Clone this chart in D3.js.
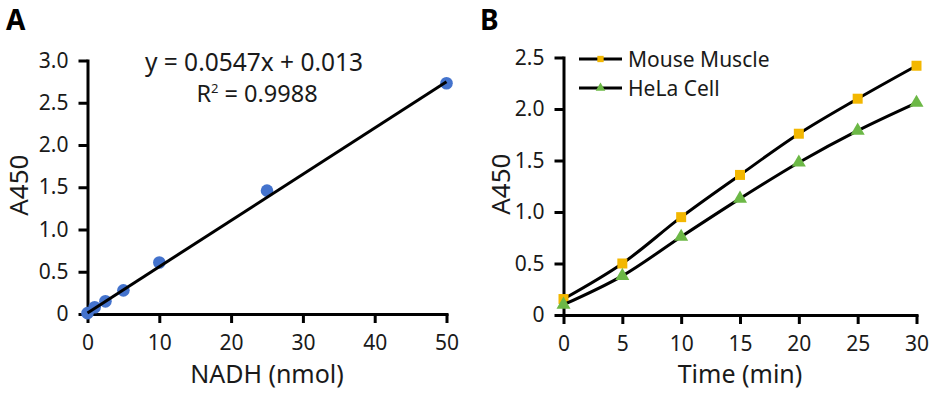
<!DOCTYPE html>
<html>
<head>
<meta charset="utf-8">
<script src="https://cdn.jsdelivr.net/npm/d3@7"></script>
<style>
  html, body { margin: 0; padding: 0; background: #fff; }
  svg { display: block; font-family: "Noto Sans", sans-serif; }
</style>
</head>
<body>
<div id="chart"></div>
<script>
// Panel A - NADH standard curve
const nadhAmount = [0, 1, 2.5, 5, 10, 25, 50]
const nadhA450 = [0.01, 0.08, 0.15, 0.28, 0.61, 1.46, 2.73]
const fitSlope = 0.0547
const fitIntercept = 0.013
const fitLabel = "y = 0.0547x + 0.013"
const r2Value = "0.9988"
const nadhXTicks = [0, 10, 20, 30, 40, 50]
const nadhYTicks = [0, 0.5, 1.0, 1.5, 2.0, 2.5, 3.0]

// Panel B - time course
const timeMin = [0, 5, 10, 15, 20, 25, 30]
const mouseMuscle = [0.155, 0.50, 0.95, 1.36, 1.76, 2.10, 2.42]
const helaCell = [0.10, 0.38, 0.76, 1.13, 1.48, 1.79, 2.06]
const seriesNames = ["Mouse Muscle", "HeLa Cell"]
const timeXTicks = [0, 5, 10, 15, 20, 25, 30]
const timeYTicks = [0, 0.5, 1.0, 1.5, 2.0, 2.5]

const width = 934
const height = 393
const blue = "#4473CD"
const orange = "#F3B700"
const green = "#6CB846"

const fmtY = d => d === 0 ? "0" : d.toFixed(1)

const svg = d3.create("svg")
    .attr("width", width)
    .attr("height", height)
    .attr("viewBox", [0, 0, width, height])

// draws both axes of a panel, thick Excel-like lines
function drawAxes(g, x, y, xTicks, yTicks, xTitle, yTitle, yTitleX) {
    const [x0] = x.range()
    const [y0] = y.range()

    const xAxis = g.append("g")
        .attr("transform", `translate(0,${y0})`)
        .call(d3.axisBottom(x).tickValues(xTicks).tickSize(9).tickSizeOuter(0).tickPadding(12).tickFormat(d3.format("d")))
    const yAxis = g.append("g")
        .attr("transform", `translate(${x0},0)`)
        .call(d3.axisLeft(y).tickValues(yTicks).tickSize(9).tickSizeOuter(0).tickPadding(10).tickFormat(fmtY))

    for (const ax of [xAxis, yAxis]) {
        ax.select(".domain").attr("stroke", "#000").attr("stroke-width", 3).attr("stroke-linecap", "square")
        ax.selectAll(".tick line").attr("stroke", "#000").attr("stroke-width", 3)
        ax.selectAll(".tick text")
            .attr("fill", "#1a1a1a")
            .style("font-size", "21px")
            .style("font-family", "'Noto Sans', sans-serif")
    }

    const xm = d3.mean(x.range())
    g.append("text")
        .attr("x", xm)
        .attr("y", 383)
        .attr("text-anchor", "middle")
        .attr("fill", "#1a1a1a")
        .style("font-size", "25px")
        .text(xTitle)

    g.append("text")
        .attr("transform", `translate(${yTitleX},${d3.mean(y.range()) - 2}) rotate(-90)`)
        .attr("text-anchor", "middle")
        .attr("fill", "#1a1a1a")
        .style("font-size", "26px")
        .text(yTitle)
}

// ---------- Panel A ----------
{
    const g = svg.append("g")
    const x = d3.scaleLinear().domain([0, 50]).range([87.5, 446.5])
    const y = d3.scaleLinear().domain([0, 3]).range([314, 60.5])

    drawAxes(g, x, y, nadhXTicks, nadhYTicks, "NADH (nmol)", "A450", 28)

    const pts = nadhAmount.map((d, i) => [d, nadhA450[i]])

    g.append("g")
        .attr("fill", blue)
        .selectAll("circle")
        .data(pts)
        .join("circle")
        .attr("cx", d => x(d[0]))
        .attr("cy", d => y(d[1]))
        .attr("r", 6.3)

    // trend line
    const xr = d3.extent(nadhAmount)
    g.append("line")
        .attr("x1", x(xr[0]))
        .attr("y1", y(fitSlope * xr[0] + fitIntercept))
        .attr("x2", x(xr[1]))
        .attr("y2", y(fitSlope * xr[1] + fitIntercept))
        .attr("stroke", "#000")
        .attr("stroke-width", 3)

    g.append("text")
        .attr("x", 254)
        .attr("y", 71)
        .attr("text-anchor", "middle")
        .attr("fill", "#1a1a1a")
        .style("font-size", "24.5px")
        .text(fitLabel)
    const r2 = g.append("text")
        .attr("x", 257)
        .attr("y", 102)
        .attr("text-anchor", "middle")
        .attr("fill", "#1a1a1a")
        .style("font-size", "23.5px")
    r2.append("tspan").text("R")
    r2.append("tspan").attr("dy", -9).style("font-size", "13px").text("2")
    r2.append("tspan").attr("dy", 9).text(" = " + r2Value)

    g.append("text")
        .attr("x", 6)
        .attr("y", 30)
        .style("font-size", "28px")
        .style("font-weight", "bold")
        .text("A")
}

// ---------- Panel B ----------
{
    const g = svg.append("g")
    const x = d3.scaleLinear().domain([0, 30]).range([563.5, 916.5])
    const y = d3.scaleLinear().domain([0, 2.5]).range([315, 57.5])

    drawAxes(g, x, y, timeXTicks, timeYTicks, "Time (min)", "A450", 510)

    const line = d3.line()
        .x(d => x(d[0]))
        .y(d => y(d[1]))
        .curve(d3.curveCatmullRom.alpha(0.5))

    const series = [
        { name: seriesNames[0], values: mouseMuscle, color: orange, shape: d3.symbolSquare, size: 100 },
        { name: seriesNames[1], values: helaCell, color: green, shape: d3.symbolTriangle, size: 85 },
    ]

    for (const s of series) {
        const pts = timeMin.map((t, i) => [t, s.values[i]])
        g.append("path")
            .attr("d", line(pts))
            .attr("fill", "none")
            .attr("stroke", "#000")
            .attr("stroke-width", 3)

        g.append("g")
            .selectAll("path")
            .data(pts)
            .join("path")
            .attr("transform", d => `translate(${x(d[0])},${y(d[1])})`)
            .attr("d", d3.symbol(s.shape, s.size))
            .attr("fill", s.color)
    }

    // legend
    const legend = g.append("g").attr("transform", "translate(579,59)")
    series.forEach((s, i) => {
        const row = legend.append("g").attr("transform", `translate(0,${i * 29})`)
        row.append("line")
            .attr("x1", 0).attr("x2", 43)
            .attr("stroke", "#000").attr("stroke-width", 3)
        row.append("path")
            .attr("transform", "translate(21.5,0)")
            .attr("d", d3.symbol(s.shape, 40))
            .attr("fill", s.color)
        row.append("text")
            .attr("x", 49)
            .attr("y", 8)
            .attr("fill", "#1a1a1a")
            .style("font-size", "21px")
            .text(s.name)
    })

    g.append("text")
        .attr("x", 480)
        .attr("y", 30)
        .style("font-size", "28px")
        .style("font-weight", "bold")
        .text("B")
}

document.getElementById("chart").append(svg.node())
</script>
</body>
</html>
